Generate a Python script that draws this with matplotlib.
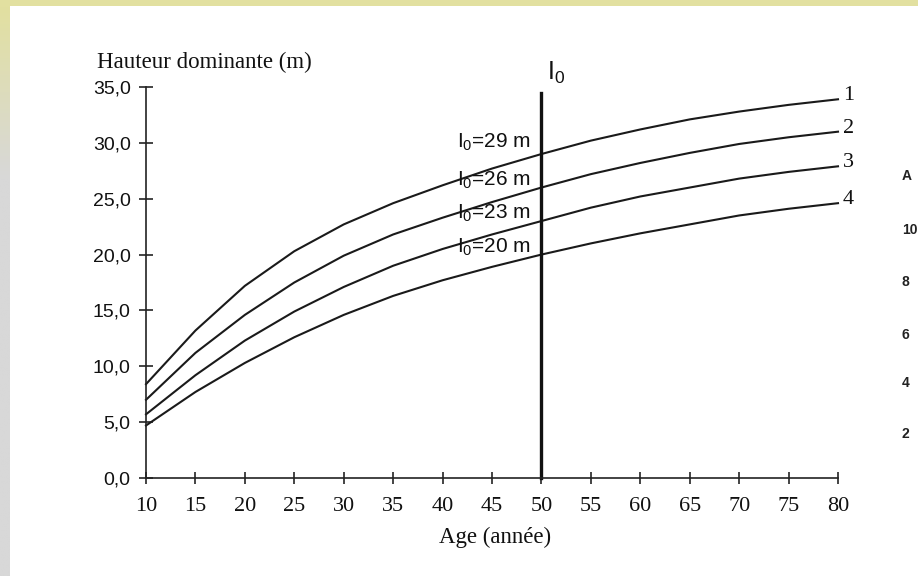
import numpy as np
import matplotlib
matplotlib.use("Agg")
import matplotlib.pyplot as plt

# Site-index curves: dominant height (m) against stand age (years)
ages = [10, 15, 20, 25, 30, 35, 40, 45, 50, 55, 60, 65, 70, 75, 80]
height_1 = [8.4, 13.2, 17.2, 20.3, 22.7, 24.6, 26.2, 27.7, 29.0, 30.2, 31.2, 32.1, 32.8, 33.4, 33.9]
height_2 = [7.0, 11.2, 14.6, 17.5, 19.9, 21.8, 23.3, 24.7, 26.0, 27.2, 28.2, 29.1, 29.9, 30.5, 31.0]
height_3 = [5.7, 9.2, 12.3, 14.9, 17.1, 19.0, 20.5, 21.8, 23.0, 24.2, 25.2, 26.0, 26.8, 27.4, 27.9]
height_4 = [4.7, 7.7, 10.3, 12.6, 14.6, 16.3, 17.7, 18.9, 20.0, 21.0, 21.9, 22.7, 23.5, 24.1, 24.6]
curve_names = ["1", "2", "3", "4"]
site_index = [29, 26, 23, 20]
reference_age = 50

x_ticks = list(range(10, 85, 5))
y_ticks = [0, 5, 10, 15, 20, 25, 30, 35]

plt.rcParams["mathtext.fontset"] = "custom"
plt.rcParams["mathtext.rm"] = "Liberation Sans"
plt.rcParams["mathtext.it"] = "Liberation Sans"

W, H = 918, 576
fig = plt.figure(figsize=(W / 100, H / 100), dpi=100)
fig.patch.set_facecolor("white")

# page border: yellow band on top, yellow-to-grey band on the left
top = fig.add_axes([0, 1 - 6 / H, 1, 6 / H])
top.set_facecolor("#e2e0a0")
top.set_xticks([]); top.set_yticks([])
for s in top.spines.values():
    s.set_visible(False)
left = fig.add_axes([0, 0, 10 / W, 1 - 6 / H])
grad = np.linspace(0, 1, 256)
c_top = np.array([226, 224, 160]) / 255
c_bot = np.array([216, 216, 216]) / 255
t = np.clip(grad / 0.3, 0, 1)[:, None]
img = (c_top * (1 - t) + c_bot * t)[:, None, :]
left.imshow(img, aspect="auto", extent=[0, 1, 1, 0])
left.axis("off")

ax = fig.add_axes([146 / W, 1 - 478 / H, (838 - 146) / W, (478 - 87) / H])
ax.set_xlim(10, 80)
ax.set_ylim(0, 35)
for s in ("top", "right"):
    ax.spines[s].set_visible(False)
for s in ("left", "bottom"):
    ax.spines[s].set_linewidth(1.2)
    ax.spines[s].set_color("#222222")

for h in (height_1, height_2, height_3, height_4):
    ax.plot(ages, h, color="#1a1a1a", lw=1.5, clip_on=False)

for name, h in zip(curve_names, (height_1, height_2, height_3, height_4)):
    ax.text(80.5, h[-1] + 0.3, name, fontsize=16, family="Liberation Serif",
            ha="left", va="center", color="#111111")

# reference age line
ax.plot([reference_age, reference_age], [0, 34.5], color="#111111", lw=2.4, clip_on=False)
ax.text(50.6, 36.3, "I$_0$", fontsize=18, family="Liberation Sans",
        ha="left", va="center", color="#111111")

label_offsets = [0.7, 0.3, 0.3, 0.3]
for si, off in zip(site_index, label_offsets):
    ax.text(48.9, si + off + 0.35, "I$_0$=%d m" % si, fontsize=15,
            family="Liberation Sans", ha="right", va="center", color="#111111")

ax.set_xticks(x_ticks)
ax.set_xticklabels([str(v) for v in x_ticks], family="Liberation Serif", fontsize=16)
ax.set_yticks(y_ticks)
ax.set_yticklabels([("%.1f" % v).replace(".", ",") for v in y_ticks],
                   family="Liberation Sans", fontsize=14)
ax.tick_params(axis="x", direction="inout", length=9, width=1.1, pad=9, colors="#111111")
ax.tick_params(axis="y", direction="inout", length=10, width=1.1, pad=6, colors="#111111")

fig.text(97 / W, 1 - 62 / H, "Hauteur dominante (m)", family="Liberation Serif",
         fontsize=16.5, ha="left", va="center", color="#111111")
fig.text(495 / W, 1 - 537 / H, "Age (année)", family="Liberation Serif",
         fontsize=16.5, ha="center", va="center", color="#111111")

# edge of the neighbouring figure on the page
for lab, yy in [("A", 176), ("10", 230), ("8", 282), ("6", 335), ("4", 383), ("2", 434)]:
    fig.text(902 / W, 1 - yy / H, lab, family="Liberation Sans", fontsize=10,
             fontweight="bold", ha="left", va="center", color="#222222")

fig.savefig("out.png", dpi=100, facecolor="white")
